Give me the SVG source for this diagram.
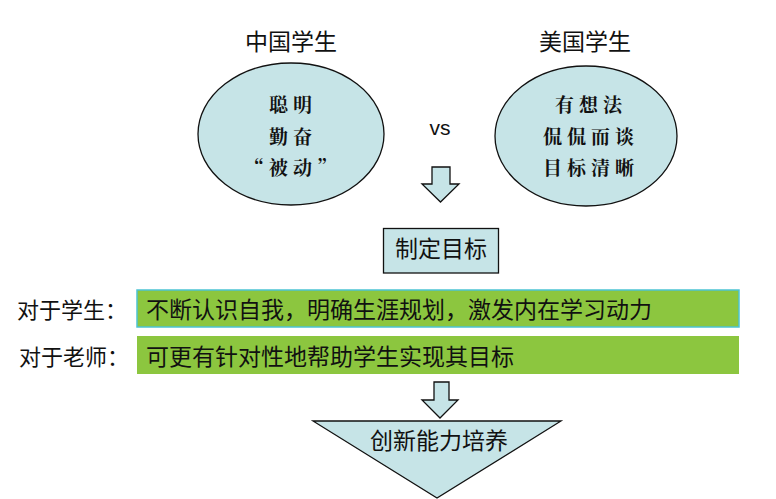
<svg xmlns="http://www.w3.org/2000/svg" width="776" height="499" viewBox="0 0 776 499">
<style>
text{font-family:"Noto Sans CJK SC","Liberation Sans",sans-serif;fill:#111}
.shape{fill:#c6e4e7;stroke:#111;stroke-width:1.3}
.title{font-size:23px;text-anchor:middle}
.kai{font-size:19px;text-anchor:middle;letter-spacing:5px;font-weight:700;font-family:"Noto Serif CJK SC","Noto Sans CJK SC",serif}
.bar{fill:#8cc63f}
.big{font-size:23px}
.lbl{font-size:22px}
</style>
<rect width="776" height="499" fill="#fff"/>
<g id="title-cn"><text class="title" x="291" y="50">中国学生</text></g>
<g id="title-us"><text class="title" x="585" y="50">美国学生</text></g>
<g id="ellipse-cn">
<ellipse class="shape" cx="291" cy="134" rx="93" ry="71"/>
<text class="kai" x="293" y="112">聪明</text>
<text class="kai" x="293" y="144">勤奋</text>
<text class="kai" x="293" y="175">“被动”</text>
</g>
<g id="ellipse-us">
<ellipse class="shape" cx="586" cy="136" rx="91" ry="70"/>
<text class="kai" x="591" y="112">有想法</text>
<text class="kai" x="591" y="144">侃侃而谈</text>
<text class="kai" x="591" y="175">目标清晰</text>
</g>
<g id="vs"><text x="440" y="135" font-size="21" text-anchor="middle" style="font-family:'Liberation Sans',sans-serif">vs</text></g>
<g id="connectors">
<path class="shape" d="M432,167 H450 V184 H459 L440.5,202 L422,184 H432 Z"/>
<path class="shape" d="M434,382 H449 V400 H458 L440,418 L422,400 H434 Z"/>
</g>
<g id="goal">
<rect class="shape" x="383.5" y="228.5" width="115" height="44.5"/>
<text class="big" x="441" y="257" text-anchor="middle">制定目标</text>
</g>
<g id="label-student"><text class="lbl" x="17" y="318">对于学生：</text></g>
<g id="bar-student">
<rect class="bar" x="137" y="290" width="602" height="37" stroke="#4cc3d3" stroke-width="1.5"/>
<text class="big" x="146" y="318">不断认识自我，明确生涯规划，激发内在学习动力</text>
</g>
<g id="label-teacher"><text class="lbl" x="19" y="365">对于老师：</text></g>
<g id="bar-teacher">
<rect class="bar" x="137" y="336" width="602" height="38"/>
<text class="big" x="146" y="365">可更有针对性地帮助学生实现其目标</text>
</g>
<g id="innovation">
<path class="shape" d="M313,421 H561 L437,498 Z"/>
<text class="big" x="439" y="449" text-anchor="middle">创新能力培养</text>
</g>
</svg>
